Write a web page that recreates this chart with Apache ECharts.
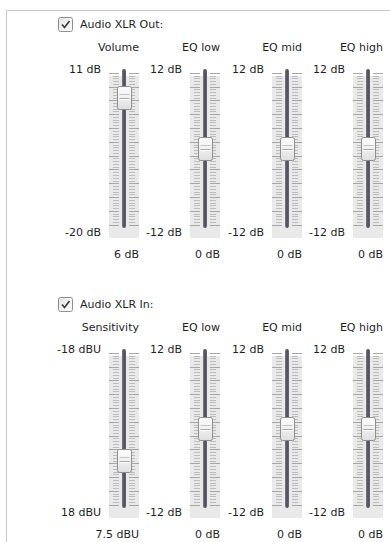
<!DOCTYPE html>
<html><head><meta charset="utf-8">
<script src="https://cdn.jsdelivr.net/npm/echarts@6/dist/echarts.min.js"></script>
<style>html,body{margin:0;padding:0;background:#fff}#c{width:390px;height:542px}</style>
</head><body><div id="c"></div>
<script>
// ---- data ----
const sectionTitles = ['Audio XLR Out:', 'Audio XLR In:'];
const outNames = ['Volume', 'EQ low', 'EQ mid', 'EQ high'];
const outTop = [11, 12, 12, 12];
const outBottom = [-20, -12, -12, -12];
const outValues = [6, 0, 0, 0];
const outUnits = ['dB', 'dB', 'dB', 'dB'];
const inNames = ['Sensitivity', 'EQ low', 'EQ mid', 'EQ high'];
const inTop = [-18, 12, 12, 12];
const inBottom = [18, -12, -12, -12];
const inValues = [7.5, 0, 0, 0];
const inUnits = ['dBU', 'dB', 'dB', 'dB'];

// ---- layout ----
const colLeft = [109, 190, 272, 353];
const secTop = [73, 353];
const secOffset = [0, 280];
const trackH = 152;
const boxW = 30;
const FONT = '11px "DejaVu Sans"';
const TXT = '#1e1e1e';

const sliders = [];
[[outNames, outTop, outBottom, outValues, outUnits], [inNames, inTop, inBottom, inValues, inUnits]].forEach((sec, s) => {
  for (let i = 0; i < 4; i++) sliders.push({ s, i, name: sec[0][i], top: sec[1][i], bottom: sec[2][i], value: sec[3][i], unit: sec[4][i] });
});

const grid = [], xAxis = [], yAxis = [], series = [];
sliders.forEach((d, k) => {
  grid.push({ left: colLeft[d.i], top: secTop[d.s], width: boxW, height: trackH });
  xAxis.push({ gridIndex: k, type: 'value', min: 0, max: 1, show: false });
  const inv = d.top < d.bottom;
  yAxis.push({ gridIndex: k, type: 'value', min: Math.min(d.top, d.bottom), max: Math.max(d.top, d.bottom), inverse: inv, show: false });
  ['left', 'right'].forEach(pos => yAxis.push({
    gridIndex: k, type: 'value', min: 0, max: 55, interval: 5, position: pos, offset: -10, z: 5,
    axisLine: { show: false }, axisLabel: { show: false }, splitLine: { show: false },
    axisTick: { show: true, length: 10, lineStyle: { color: '#a6a6a6', width: 1 } },
    minorTick: { show: true, splitNumber: 5, length: 6, lineStyle: { color: '#bcbcbc', width: 1 } }
  }));
  // background: box, track, labels
  series.push({
    type: 'custom', xAxisIndex: k, yAxisIndex: k * 3, z: 1, silent: true, animation: false,
    data: [[0.5, d.value]],
    renderItem: (params, api) => {
      const cs = params.coordSys;
      const cx = cs.x + cs.width / 2;
      const yTop = cs.y, yBot = cs.y + cs.height;
      return { type: 'group', children: [
        { type: 'rect', shape: { x: cs.x, y: yTop + 3, width: cs.width, height: cs.height + 10 }, style: { fill: '#e9e9e9' } },
        { type: 'rect', shape: { x: cx - 2, y: yTop - 4, width: 4, height: cs.height + 7, r: 2 },
          style: { fill: new echarts.graphic.LinearGradient(0, 0, 1, 0, [{ offset: 0, color: '#7c7c88' }, { offset: 0.5, color: '#4c4c58' }, { offset: 1, color: '#6a6a76' }]) } },
        { type: 'text', x: cs.x + cs.width, y: yTop - 26, style: { text: d.name, font: FONT, fill: TXT, align: 'right', verticalAlign: 'middle' } },
        { type: 'text', x: cs.x - 8, y: yTop - 4, style: { text: d.top + ' ' + d.unit, font: FONT, fill: TXT, align: 'right', verticalAlign: 'middle' } },
        { type: 'text', x: cs.x - 8, y: yBot + 7, style: { text: d.bottom + ' ' + d.unit, font: FONT, fill: TXT, align: 'right', verticalAlign: 'middle' } },
        { type: 'text', x: cs.x + cs.width, y: yBot + 29, style: { text: api.value(1) + ' ' + d.unit, font: FONT, fill: TXT, align: 'right', verticalAlign: 'middle' } }
      ] };
    }
  });
  // thumb at value
  series.push({
    type: 'custom', xAxisIndex: k, yAxisIndex: k * 3, z: 10, silent: true, animation: false,
    data: [[0.5, d.value]],
    renderItem: (params, api) => {
      const p = api.coord([api.value(0), api.value(1)]);
      const x = Math.round(p[0] - 7.5) + 0.5, y = Math.round(p[1] - 12) + 0.5;
      return { type: 'group', children: [
        { type: 'rect', shape: { x: x, y: y, width: 14, height: 23, r: 2 },
          style: { fill: new echarts.graphic.LinearGradient(0, 0, 0, 1, [{ offset: 0, color: '#fdfdfd' }, { offset: 0.5, color: '#f0f0f0' }, { offset: 1, color: '#dedede' }]), stroke: '#8e8e8e', lineWidth: 1 } },
        { type: 'line', shape: { x1: x + 2, y1: y + 8, x2: x + 12, y2: y + 8 }, style: { stroke: '#c4c4c4', lineWidth: 1 } },
        { type: 'line', shape: { x1: x + 2, y1: y + 12, x2: x + 12, y2: y + 12 }, style: { stroke: '#a8a8a8', lineWidth: 1 } },
        { type: 'line', shape: { x1: x + 2, y1: y + 13, x2: x + 12, y2: y + 13 }, style: { stroke: '#ffffff', lineWidth: 1 } }
      ] };
    }
  });
});

const graphic = [
  { type: 'line', shape: { x1: 6.5, y1: 10.5, x2: 390, y2: 10.5 }, style: { stroke: '#c8c8c8', lineWidth: 1 } },
  { type: 'line', shape: { x1: 6.5, y1: 10.5, x2: 6.5, y2: 542 }, style: { stroke: '#c8c8c8', lineWidth: 1 } }
];
sectionTitles.forEach((t, s) => {
  const o = secOffset[s];
  graphic.push({ type: 'rect', shape: { x: 58.5, y: 17.5 + o, width: 14, height: 14, r: 2 },
    style: { fill: new echarts.graphic.LinearGradient(0, 0, 1, 1, [{ offset: 0, color: '#e4e4e4' }, { offset: 1, color: '#ffffff' }]), stroke: '#8f8f8f', lineWidth: 1 } });
  graphic.push({ type: 'polyline', shape: { points: [[62, 24.5 + o], [64.5, 27.5 + o], [69.5, 21 + o]] }, style: { stroke: '#3a3a3a', lineWidth: 1.6, fill: null } });
  graphic.push({ type: 'text', x: 80, y: 24.5 + o, style: { text: t, font: FONT, fill: TXT, verticalAlign: 'middle' } });
});

const chart = echarts.init(document.getElementById('c'), null, { renderer: 'svg' });
chart.setOption({ animation: false, backgroundColor: '#ffffff', grid, xAxis, yAxis, series, graphic });
</script></body></html>
